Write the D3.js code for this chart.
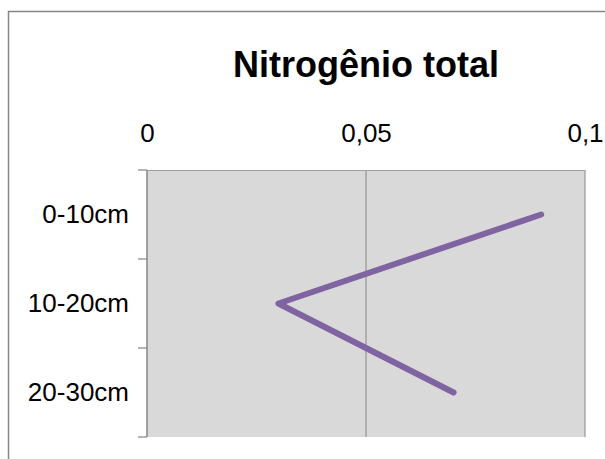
<!DOCTYPE html>
<html>
<head>
<meta charset="utf-8">
<script src="https://cdn.jsdelivr.net/npm/d3@7"></script>
<style>
  body { margin: 0; background: #fff; }
  text { font-family: "Liberation Sans", Arial, sans-serif; }
</style>
</head>
<body>
<svg></svg>
<script>
const w = 605
const h = 459

const depths = ['0-10cm', '10-20cm', '20-30cm']
const nitrogen = [0.09, 0.03, 0.07]
const xTicks = [0, 0.05, 0.1]
const title = 'Nitrogênio total'

const svg = d3.select('svg')
  .attr('width', w)
  .attr('height', h);

// chart frame (runs off the right and bottom edges)
svg.append('rect')
  .attr('x', 8.5).attr('y', 11.5)
  .attr('width', 620).attr('height', 470)
  .attr('fill', '#fff')
  .attr('stroke', '#868686')
  .attr('stroke-width', 1.5);

const margin = {top: 170, left: 147};
const innerWidth = 585 - margin.left;
const innerHeight = 437 - margin.top;

const g = svg.append('g')
  .attr('transform', `translate(${margin.left}, ${margin.top})`);

const xScale = d3.scaleLinear()
  .domain([0, 0.1])
  .range([0, innerWidth]);

const yScale = d3.scaleBand()
  .domain(depths)
  .range([0, innerHeight]);

// plot area
g.append('rect')
  .attr('width', innerWidth)
  .attr('height', innerHeight)
  .attr('fill', '#d9d9d9');

// gridlines
g.selectAll('.grid').data(xTicks.slice(1, -1))
  .enter().append('line')
  .attr('x1', d => xScale(d)).attr('x2', d => xScale(d))
  .attr('y1', 0).attr('y2', innerHeight)
  .attr('stroke', '#868686')
  .attr('stroke-width', 1);

// right edge + top line
g.append('line')
  .attr('x1', innerWidth).attr('x2', innerWidth)
  .attr('y1', 0).attr('y2', innerHeight)
  .attr('stroke', '#868686');
g.append('line')
  .attr('x1', 0).attr('x2', innerWidth)
  .attr('y1', 0.5).attr('y2', 0.5)
  .attr('stroke', '#a0a0a0');

// top axis (labels only)
const fmt = d => String(d).replace('.', ',');
const xAxis = d3.axisTop(xScale)
  .tickValues(xTicks)
  .tickFormat(fmt)
  .tickSize(0)
  .tickPadding(28);
const xAxisG = g.append('g').call(xAxis)
  .attr('font-size', 26)
  .attr('font-family', null);
xAxisG.select('.domain').remove();
xAxisG.selectAll('text')
  .attr('fill', '#000');

// left axis
const yAxis = d3.axisLeft(yScale)
  .tickSize(0)
  .tickPadding(18);
const yAxisG = g.append('g').call(yAxis)
  .attr('font-size', 26)
  .attr('font-family', null);
yAxisG.select('.domain')
  .attr('stroke', '#868686')
  .attr('stroke-width', 1.5)
  .attr('d', `M0,0V${innerHeight}`);
yAxisG.selectAll('text')
  .attr('fill', '#000');

// tick marks at band edges
const edges = depths.map(d => yScale(d)).concat([innerHeight]);
g.selectAll('.ytick').data(edges)
  .enter().append('line')
  .attr('x1', -9).attr('x2', 0)
  .attr('y1', d => d).attr('y2', d => d)
  .attr('stroke', '#868686')
  .attr('stroke-width', 1.2);

// line
const lineGen = d3.line()
  .x(d => xScale(d.v))
  .y(d => yScale(d.k) + yScale.bandwidth() / 2);

g.append('path')
  .datum(depths.map((k, i) => ({k, v: nitrogen[i]})))
  .attr('d', lineGen)
  .attr('fill', 'none')
  .attr('stroke', '#8064a2')
  .attr('stroke-width', 6)
  .attr('stroke-linecap', 'round')
  .attr('stroke-linejoin', 'round');

// title
svg.append('text')
  .attr('x', 366)
  .attr('y', 77)
  .attr('text-anchor', 'middle')
  .attr('font-size', 36)
  .attr('font-weight', 'bold')
  .text(title);
</script>
</body>
</html>
